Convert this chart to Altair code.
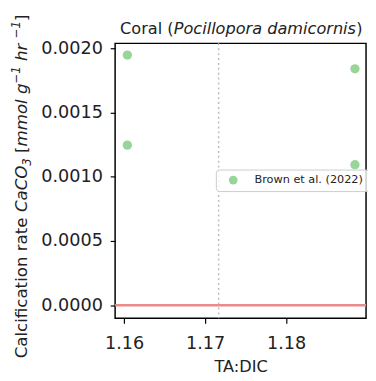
import altair as alt
import pandas as pd

# ---- data ----
ta_dic = [1.1604, 1.1604, 1.1885, 1.1885]
calc_rate = [0.001947, 0.001246, 0.00184, 0.001094]
source = ["Brown et al. (2022)"] * 4
mean_ta_dic = [1.17167]
zero_line = [0.0]
x_ticks = [1.16, 1.17, 1.18]
y_ticks = [0.0, 0.0005, 0.0010, 0.0015, 0.0020]

# title segments: (text, italic)
title_parts = [("Coral (", False), ("Pocillopora damicornis", True), (")", False)]
title_offsets = [0.0, 54.8, 241.3]

# y-title segments: (text, italic, size, dy)
ytitle_parts = [
    ("Calcification rate", False, 17, 0),
    ("CaCO", True, 17, 0),
    ("3", True, 12, 4),
    ("[", False, 17, 0),
    ("mmol g", True, 17, 0),
    ("\u22121", True, 12, -7),
    ("hr", True, 17, 0),
    ("\u22121", True, 12, -7),
    ("]", False, 17, 0),
]
ytitle_offsets = [0.0, 149.5, 197.0, 210.0, 216.6, 280.9, 304.0, 327.2, 344.9]

df = pd.DataFrame({"ta_dic": ta_dic, "rate": calc_rate, "source": source})
FONT = "DejaVu Sans"
GREEN = "#98d598"

xscale = alt.Scale(domain=[1.15889, 1.18987], nice=False, zero=False)
yscale = alt.Scale(domain=[-0.000101, 0.002038], nice=False, zero=False)

points = alt.Chart(df).mark_circle(size=90, opacity=1).encode(
    x=alt.X("ta_dic:Q", scale=xscale,
            axis=alt.Axis(values=x_ticks, format=".2f", title="TA:DIC",
                          labelPadding=12, titlePadding=6)),
    y=alt.Y("rate:Q", scale=yscale,
            axis=alt.Axis(values=y_ticks, format=".4f", title=None)),
    color=alt.Color("source:N", scale=alt.Scale(range=[GREEN]),
                    legend=alt.Legend(title=None, orient="none", legendX=103, legendY=129,
                                      padding=5, symbolOffset=7, labelOffset=16,
                                      labelFontSize=11.5, labelFont=FONT, labelColor="#222222",
                                      symbolSize=80, symbolType="circle", symbolStrokeWidth=0,
                                      symbolOpacity=1,
                                      strokeColor="#cccccc", cornerRadius=3,
                                      fillColor="rgba(255,255,255,0.8)")),
)

vline = alt.Chart(pd.DataFrame({"x": mean_ta_dic})).mark_rule(
    color="#bbbbbb", strokeDash=[2, 3], strokeWidth=1.5
).encode(x=alt.X("x:Q", scale=xscale))

hline = alt.Chart(pd.DataFrame({"y": zero_line})).mark_rule(
    color="#ea8a8a", strokeWidth=2.5
).encode(y=alt.Y("y:Q", scale=yscale))

one = pd.DataFrame({"a": [0]})
layers = [vline, hline, points]

for (txt, ital), off in zip(title_parts, title_offsets):
    layers.append(
        alt.Chart(one).mark_text(
            text=txt, font=FONT, fontSize=16.5, fontStyle="italic" if ital else "normal",
            align="left", baseline="alphabetic", color="#222222"
        ).encode(x=alt.value(5.1 + off), y=alt.value(-10))
    )

for (txt, ital, size, dy), off in zip(ytitle_parts, ytitle_offsets):
    layers.append(
        alt.Chart(one).mark_text(
            text=txt, font=FONT, fontSize=size, fontStyle="italic" if ital else "normal",
            align="left", baseline="alphabetic", angle=270, dx=off, dy=dy, color="#222222"
        ).encode(x=alt.value(-90.5), y=alt.value(322))
    )

chart = alt.layer(*layers).properties(
    width=256.5, height=281,
    autosize=alt.AutoSizeParams(type="none"),
    padding={"left": 109.5, "top": 32, "right": 2, "bottom": 60},
).configure_view(
    stroke="black", strokeWidth=1.5
).configure_axis(
    domain=False, grid=False, ticks=True, tickColor="black", tickWidth=1.2, tickSize=5,
    labelFont=FONT, labelFontSize=18, labelColor="#222222", labelPadding=8,
    titleFont=FONT, titleFontSize=16.5, titleFontWeight="normal", titleColor="#222222",
)

chart.save("out.html", embed_options={"renderer": "svg", "actions": False})
